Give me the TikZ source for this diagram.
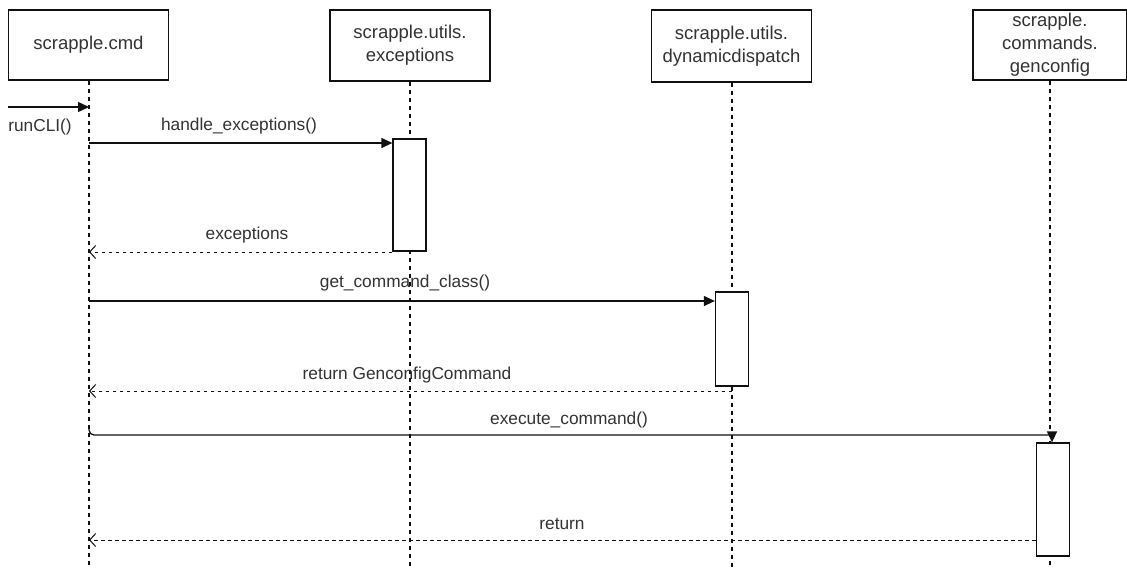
\documentclass[tikz,border=0pt]{standalone}
\usepackage{fontspec}
\setmainfont{Liberation Sans}
\usetikzlibrary{arrows.meta}
\definecolor{textgray}{HTML}{333333}
\definecolor{linegray}{HTML}{111111}
\begin{document}
\begin{tikzpicture}[x=1pt,y=-1pt,
  obj/.style={draw=linegray, line width=1.3pt, fill=white, minimum height=70pt, inner sep=0pt, align=center, font=\fontsize{18.5}{23}\selectfont, text=textgray},
  act/.style={draw=linegray, line width=1.3pt, fill=white, minimum width=33pt, inner sep=0pt},
  life/.style={draw=linegray, line width=1.1pt, dash pattern=on 4pt off 4pt},
  msg/.style={draw=linegray, line width=1.3pt, -{Triangle[length=11pt,width=10pt]}},
  ret/.style={draw=linegray, line width=1pt, dash pattern=on 3.5pt off 3.5pt, -{Straight Barb[length=6pt,width=13pt,line width=1pt]}},
  lbl/.style={font=\fontsize{17.3}{20}\selectfont, text=textgray, inner sep=0pt}]
\useasboundingbox (0,0) rectangle (1127,571);
\fill[white] (0,0) rectangle (1127,571);

% lifeline ends
\coordinate (e1) at (89,568);
\coordinate (e2) at (410,568);
\coordinate (e3) at (732,568);
\coordinate (e4) at (1050,568);

% objects
\node[obj, minimum width=160pt] (o1) at (88.5,45) {scrapple.cmd};
\node[obj, minimum width=160pt, minimum height=71pt] (o2) at (410,45.5) {scrapple.utils.\\exceptions};
\node[obj, minimum width=160pt, minimum height=72pt] (o3) at (731.5,46) {scrapple.utils.\\dynamicdispatch};
\node[obj, minimum width=154pt] (o4) at (1050,45) {scrapple.\\commands.\\genconfig};

% lifelines
\draw[life] (o1.south -| e1) -- (e1);
\draw[life] (o2.south -| e2) -- (e2);
\draw[life] (o3.south -| e3) -- (e3);
\draw[life] (o4.south -| e4) -- (e4);

% activation boxes
\node[act, minimum height=112pt] (a1) at (409.5,195) {};
\node[act, minimum height=94pt] (a2) at (732,339) {};
\node[act, minimum height=113pt] (a3) at (1053,499.5) {};

% messages
\coordinate (s0) at (8,107);
\coordinate (c0) at (89,107);
\draw[msg] (s0) -- (c0);
\node[lbl] (l0) at (40,127) {runCLI()};

\coordinate (c1) at (89,143);
\draw[msg] (c1) -- (c1 -| a1.west);
\node[lbl] (l1) at (239,126) {handle\_exceptions()};

\coordinate (c2) at (89,252);
\draw[ret] (c2 -| a1.west) -- (c2);
\node[lbl] (l2) at (247,235) {exceptions};

\coordinate (c3) at (89,301);
\draw[msg] (c3) -- (c3 -| a2.west);
\node[lbl] (l3) at (405,283) {get\_command\_class()};

\coordinate (c4) at (89,391);
\coordinate (r4) at (732,391);
\draw[ret] (r4) -- (c4);
\node[lbl] (l4) at (407,375) {return GenconfigCommand};

\coordinate (c5) at (89,428);
\coordinate (k5) at (1052,435);
\draw[draw=linegray, line width=1.3pt, rounded corners=5pt] (c5) |- (k5);
\draw[msg] (k5) -- (a3.north -| k5);
\node[lbl] (l5) at (569,420) {execute\_command()};

\coordinate (c6) at (89,540);
\draw[ret] (c6 -| a3.west) -- (c6);
\node[lbl] (l6) at (562,524) {return};
\end{tikzpicture}
\end{document}
